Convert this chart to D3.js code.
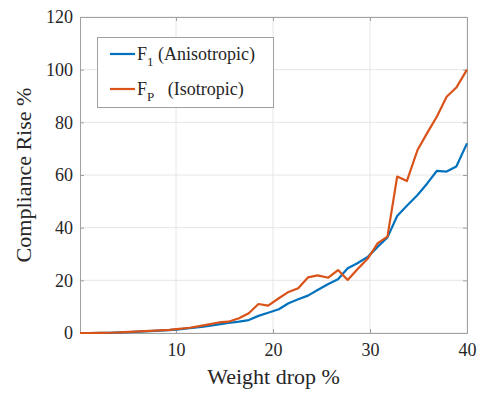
<!DOCTYPE html>
<html>
<head>
<meta charset="utf-8">
<script src="https://cdn.jsdelivr.net/npm/d3@7"></script>
<style>
  body { margin: 0; background: #fff; }
  text { font-family: "Liberation Serif", "Times New Roman", serif; fill: #262626; }
</style>
</head>
<body>
<div id="chart"></div>
<script>
// weight drop (%) sample positions
const weightDrop = [0.1, 1.1, 2.2, 3.2, 4.2, 5.2, 6.2, 7.3, 8.3, 9.3,
  10.3, 11.4, 12.4, 13.4, 14.4, 15.4, 16.5, 17.5, 18.5, 19.5,
  20.6, 21.6, 22.6, 23.6, 24.6, 25.7, 26.7, 27.7, 28.7, 29.8,
  30.8, 31.8, 32.8, 33.8, 34.9, 35.9, 36.9, 37.9, 38.9, 40.0];

// F1 (Anisotropic)
const anisotropic = [0, 0, 0.05, 0.1, 0.2, 0.35, 0.5, 0.7, 0.9, 1.1,
  1.4, 1.8, 2.2, 2.7, 3.3, 3.8, 4.3, 4.9, 6.5, 7.7,
  9.0, 11.3, 12.8, 14.2, 16.3, 18.6, 20.4, 24.6, 26.5, 29.0,
  32.8, 36.3, 44.4, 48.3, 52.4, 56.8, 61.6, 61.3, 63.2, 72.0];

// FP (Isotropic)
const isotropic = [0, 0, 0.05, 0.1, 0.2, 0.4, 0.6, 0.8, 1.0, 1.2,
  1.6, 2.0, 2.6, 3.3, 4.0, 4.3, 5.6, 7.5, 11.0, 10.4,
  13.2, 15.6, 17.0, 21.1, 21.9, 21.0, 23.9, 20.1, 24.2, 28.4,
  34.1, 36.6, 59.4, 57.7, 69.5, 76.0, 82.2, 89.7, 93.2, 100.0];

const xTicks = [10, 20, 30, 40];
const yTicks = [0, 20, 40, 60, 80, 100, 120];

const W = 477, H = 396;
const margin = {top: 17, right: 10, bottom: 63, left: 80};
const width = W - margin.left - margin.right;
const height = H - margin.top - margin.bottom;

const svg = d3.select("#chart").append("svg")
    .attr("width", W)
    .attr("height", H);

const chart = svg.append("g")
    .attr("transform", "translate(" + margin.left + "," + margin.top + ")");

const xScale = d3.scaleLinear().domain([0.1, 40]).range([0, width]);
const yScale = d3.scaleLinear().domain([0, 120]).range([height, 0]);

// grid
chart.append("g").selectAll("line.vg")
    .data(xTicks).enter().append("line")
    .attr("x1", d => xScale(d)).attr("x2", d => xScale(d))
    .attr("y1", 0).attr("y2", height)
    .attr("stroke", "#e6e6e6").attr("stroke-width", 1);
chart.append("g").selectAll("line.hg")
    .data(yTicks).enter().append("line")
    .attr("y1", d => yScale(d)).attr("y2", d => yScale(d))
    .attr("x1", 0).attr("x2", width)
    .attr("stroke", "#e6e6e6").attr("stroke-width", 1);

// axes (inward ticks, box on)
const axisColor = "#a0a0a0";
const styleAxis = g => {
  g.select(".domain").attr("stroke", axisColor);
  g.selectAll(".tick line").attr("stroke", axisColor);
  g.selectAll(".tick text")
    .style("font-family", "'Liberation Serif', serif")
    .style("font-size", "18px")
    .attr("fill", "#262626");
};

chart.append("g")
    .attr("transform", "translate(0," + height + ")")
    .call(d3.axisBottom(xScale).tickValues(xTicks).tickSizeInner(-4).tickSizeOuter(0).tickPadding(10))
    .call(styleAxis);
chart.append("g")
    .call(d3.axisTop(xScale).tickValues(xTicks).tickSizeInner(-4).tickSizeOuter(0).tickFormat(""))
    .call(styleAxis);
chart.append("g")
    .call(d3.axisLeft(yScale).tickValues(yTicks).tickSizeInner(-4).tickSizeOuter(0).tickPadding(7))
    .call(styleAxis);
chart.append("g")
    .attr("transform", "translate(" + width + ",0)")
    .call(d3.axisRight(yScale).tickValues(yTicks).tickSizeInner(-4).tickSizeOuter(0).tickFormat(""))
    .call(styleAxis);

// lines
const line = d3.line()
    .x((d, i) => xScale(weightDrop[i]))
    .y(d => yScale(d));

chart.append("path")
    .datum(anisotropic)
    .attr("fill", "none")
    .attr("stroke", "#0072BD")
    .attr("stroke-width", 2.2)
    .attr("stroke-linejoin", "round")
    .attr("d", line);

chart.append("path")
    .datum(isotropic)
    .attr("fill", "none")
    .attr("stroke", "#D95319")
    .attr("stroke-width", 2.2)
    .attr("stroke-linejoin", "round")
    .attr("d", line);

// axis labels
svg.append("text")
    .attr("x", margin.left + width / 2)
    .attr("y", 384)
    .attr("text-anchor", "middle")
    .style("font-size", "22px")
    .text("Weight drop %");

svg.append("text")
    .attr("transform", "translate(31," + (margin.top + height / 2) + ") rotate(-90)")
    .attr("text-anchor", "middle")
    .style("font-size", "22px")
    .text("Compliance Rise %");

// legend
const legend = svg.append("g");
legend.append("rect")
    .attr("x", 97.5).attr("y", 37.5)
    .attr("width", 176).attr("height", 70)
    .attr("fill", "#fff")
    .attr("stroke", "#a0a0a0");

const legendItems = [
  {color: "#0072BD", main: "F", sub: "1", rest: " (Anisotropic)", y: 54},
  {color: "#D95319", main: "F", sub: "P", rest: "   (Isotropic)", y: 89}
];
legendItems.forEach(item => {
  legend.append("line")
      .attr("x1", 110).attr("x2", 135)
      .attr("y1", item.y).attr("y2", item.y)
      .attr("stroke", item.color).attr("stroke-width", 2.2);
  const t = legend.append("text")
      .attr("x", 137).attr("y", item.y + 6)
      .style("font-size", "18px")
      .attr("xml:space", "preserve");
  t.append("tspan").text(item.main);
  t.append("tspan").attr("dy", 6).style("font-size", "13px").text(item.sub);
  t.append("tspan").attr("dy", -6).text(item.rest);
});
</script>
</body>
</html>
